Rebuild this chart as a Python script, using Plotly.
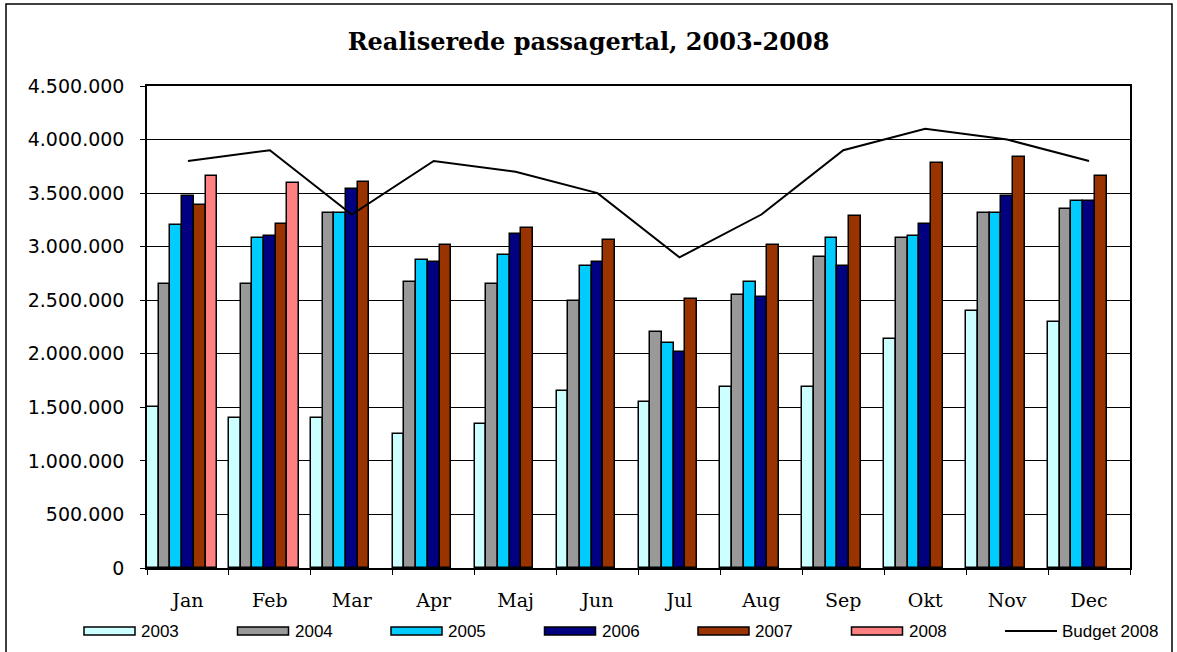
import plotly.graph_objects as go

months = ["Jan", "Feb", "Mar", "Apr", "Maj", "Jun", "Jul", "Aug", "Sep", "Okt", "Nov", "Dec"]

y2003 = [1500000, 1400000, 1400000, 1250000, 1340000, 1650000, 1550000, 1690000, 1690000, 2140000, 2400000, 2300000]
y2004 = [2650000, 2650000, 3310000, 2670000, 2650000, 2490000, 2200000, 2550000, 2900000, 3080000, 3310000, 3350000]
y2005 = [3200000, 3080000, 3310000, 2880000, 2920000, 2820000, 2100000, 2670000, 3080000, 3100000, 3310000, 3430000]
y2006 = [3470000, 3100000, 3540000, 2860000, 3120000, 2860000, 2020000, 2530000, 2820000, 3210000, 3470000, 3430000]
y2007 = [3390000, 3210000, 3600000, 3020000, 3170000, 3060000, 2510000, 3020000, 3290000, 3780000, 3840000, 3660000]
y2008 = [3660000, 3590000, None, None, None, None, None, None, None, None, None, None]
budget2008 = [3800000, 3900000, 3300000, 3800000, 3700000, 3500000, 2900000, 3300000, 3900000, 4100000, 4000000, 3800000]

series = [
    ("2003", y2003, "#CCFFFF"),
    ("2004", y2004, "#999999"),
    ("2005", y2005, "#00CCFF"),
    ("2006", y2006, "#000080"),
    ("2007", y2007, "#993300"),
    ("2008", y2008, "#FF8080"),
]

W, H = 1177, 652
L, R, T, B = 147, 1130, 86, 568  # plot area in pixels
PW, PH = R - L, B - T


def px(x):
    return (x - L) / PW


def py(y):
    return (B - y) / PH


fig = go.Figure()
for name, vals, col in series:
    fig.add_trace(go.Bar(
        x=months, y=vals, name=name,
        marker=dict(color=col, line=dict(color="black", width=1.5)),
    ))
# empty slot (Excel keeps room for a seventh bar in each group)
fig.add_trace(go.Bar(x=months, y=[None] * len(months), showlegend=False,
                     hoverinfo="skip", marker=dict(color="rgba(0,0,0,0)")))
fig.add_trace(go.Scatter(
    x=months, y=budget2008, name="Budget 2008", mode="lines",
    line=dict(color="black", width=2),
))

# Custom legend (wide Excel-style keys)
shapes = []
annotations = []
leg_y = 631
step = 153.5
for i, (name, vals, col) in enumerate(series):
    x0 = 84 + i * step
    shapes.append(dict(type="rect", xref="paper", yref="paper",
                       x0=px(x0), x1=px(x0 + 51), y0=py(leg_y + 4), y1=py(leg_y - 4),
                       fillcolor=col, line=dict(color="black", width=1.5)))
    annotations.append(dict(text=name, xref="paper", yref="paper",
                            x=px(x0 + 55), y=py(leg_y), xanchor="left", yanchor="middle",
                            showarrow=False,
                            font=dict(family="Liberation Sans", size=17, color="black")))
shapes.append(dict(type="line", xref="paper", yref="paper",
                   x0=px(1005), x1=px(1057), y0=py(leg_y), y1=py(leg_y),
                   line=dict(color="black", width=2)))
annotations.append(dict(text="Budget 2008", xref="paper", yref="paper",
                        x=px(1060), y=py(leg_y), xanchor="left", yanchor="middle",
                        showarrow=False,
                        font=dict(family="Liberation Sans", size=17, color="black")))
# outer chart frame
shapes.append(dict(type="rect", xref="paper", yref="paper",
                   x0=px(6), x1=px(1172), y0=py(660), y1=py(4),
                   line=dict(color="black", width=1.5), fillcolor="rgba(0,0,0,0)",
                   layer="below"))

fig.update_layout(
    width=W, height=H,
    paper_bgcolor="white", plot_bgcolor="white",
    barmode="group", bargap=0, bargroupgap=0,
    separators=",.",
    margin=dict(l=L, r=W - R, t=T, b=H - B, autoexpand=False),
    title=dict(
        text="<b>Realiserede passagertal, 2003-2008</b>",
        font=dict(family="DejaVu Serif", size=24, color="black"),
        x=0.5, xanchor="center", xref="container",
        y=1 - 42 / H, yanchor="middle", yref="container",
    ),
    font=dict(family="DejaVu Sans", color="black"),
    showlegend=False,
    shapes=shapes,
    annotations=annotations,
)

fig.update_xaxes(
    type="category", automargin=False,
    showline=True, linecolor="black", linewidth=1.5, mirror=True,
    ticks="outside", tickson="boundaries", ticklen=5, tickcolor="black",
    showgrid=False,
    tickfont=dict(family="DejaVu Serif", size=19, color="black"),
    ticklabelstandoff=14,
)
fig.update_yaxes(
    range=[0, 4500000], dtick=500000, tickformat=",d", automargin=False,
    showline=True, linecolor="black", linewidth=1.5, mirror=True,
    ticks="outside", ticklen=5, tickcolor="black",
    showgrid=True, gridcolor="black", gridwidth=1,
    zeroline=False,
    tickfont=dict(family="DejaVu Sans", size=19, color="black"),
    ticklabelstandoff=12,
)

fig.write_html(
    "out.html",
    config={"displayModeBar": False},
    post_script="document.body.style.margin='0';document.body.style.overflow='hidden';",
)
